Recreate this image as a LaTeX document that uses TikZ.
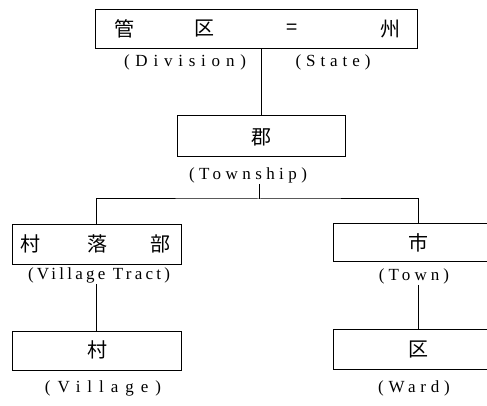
\documentclass[tikz,border=0pt]{standalone}
\usepackage{fontspec}
\setmainfont{Liberation Serif}
\newfontfamily\cjk{Noto Sans CJK JP}
\begin{document}
\begin{tikzpicture}[x=1pt,y=-1pt,
  box/.style={draw,line width=1pt,inner sep=0pt},
  lbl/.style={inner sep=1pt,font=\fontsize{17}{19}\selectfont\addfontfeature{LetterSpace=#1}},
  han/.style={inner sep=0pt,font=\cjk\fontsize{20}{22}\selectfont},
  conn/.style={line width=1pt}]
\useasboundingbox (0,0) rectangle (487,406);
\clip (0,0) rectangle (487,406);
% boxes
\node[box,minimum width=322pt,minimum height=39pt] (top) at (256,29.5) {};
\node[box,minimum width=168pt,minimum height=41pt] (gun) at (261,136) {};
\node[box,minimum width=169pt,minimum height=40pt] (vt) at (96.5,244) {};
\node[box,minimum width=170pt,minimum height=38pt] (town) at (418,242) {};
\node[box,minimum width=169pt,minimum height=39pt] (vil) at (96.5,350.5) {};
\node[box,minimum width=170pt,minimum height=40pt] (ward) at (418,349) {};
% text in boxes
\node[han] (t1) at (124,29) {管};
\node[han] (t2) at (204,29) {区};
\node[han] (t3) at (292,29) {=};
\node[han] (t4) at (390,29) {州};
\node[han] (tg) at (261,137) {郡};
\node[han] (tv1) at (30,244) {村};
\node[han] (tv2) at (97,244) {落};
\node[han] (tv3) at (160,244) {部};
\node[han] (tt) at (418,243) {市};
\node[han] (tvl) at (97,350) {村};
\node[han] (tw) at (418,350) {区};
% labels
\node[lbl=34] (div) at (185,62) {(Division)};
\node[lbl=29] (state) at (333,62) {(State)};
\node[lbl=26] (twp) at (248,175) {(Township)};
\node[lbl=19] (vtl) at (99,275) {(Village Tract)};
\node[lbl=24] (townl) at (414,276) {(Town)};
\node[lbl=41] (vill) at (103,388) {(Village)};
\node[lbl=28] (wardl) at (414,388) {(Ward)};
% connectors
\coordinate (j) at (259,199);
\draw[conn] (gun.north |- top.south) -- (gun.north);
\draw[conn] (j |- twp.south) -- (j);
\draw[conn] (vt.north) |- (j) -| (town.north);
\draw[conn] (vt.north |- vtl.south) -- (vil.north);
\draw[conn] (town.north |- townl.south) -- (ward.north);
\end{tikzpicture}
\end{document}
